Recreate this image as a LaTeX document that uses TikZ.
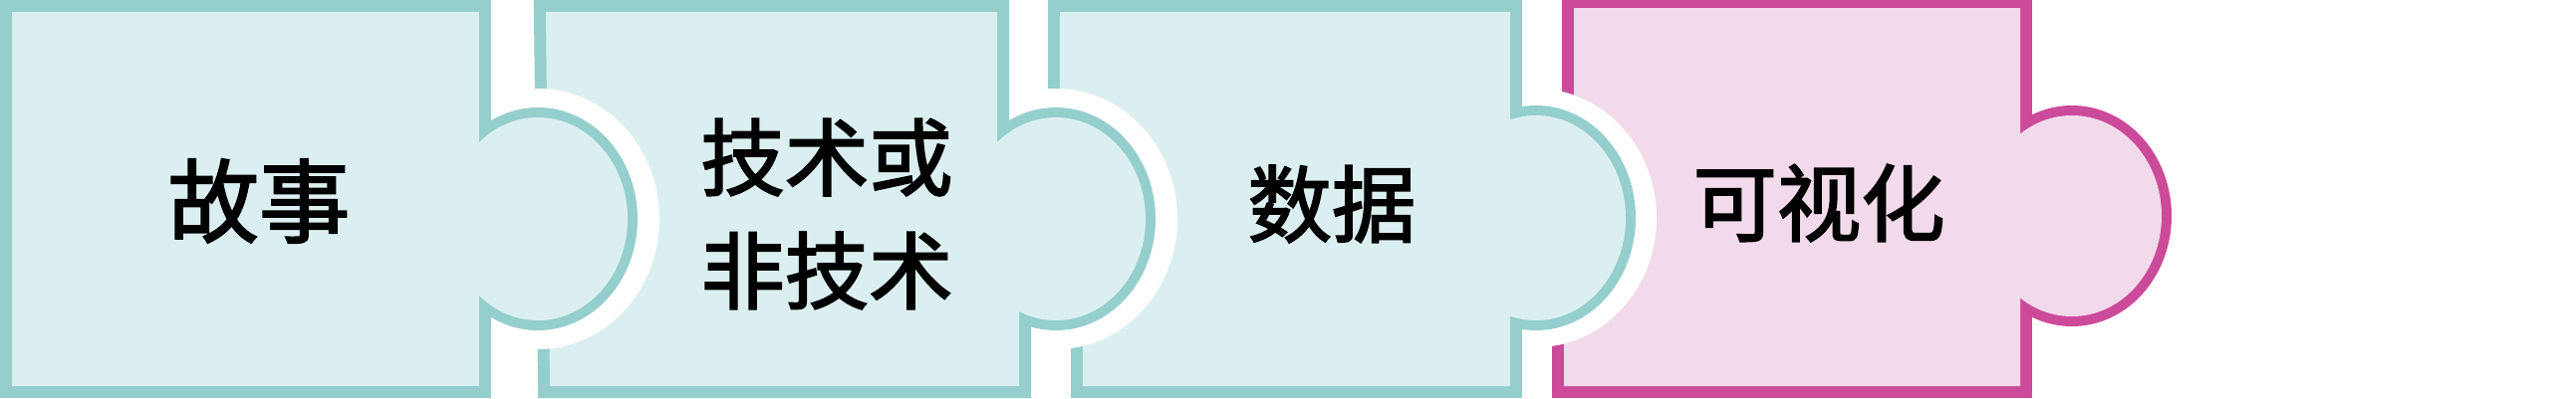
\documentclass[tikz,border=0pt]{standalone}
\usepackage{fontspec}
\newfontfamily\cjk[FakeBold=2.2]{Noto Sans CJK SC}
\definecolor{tealline}{HTML}{94CFCD}
\definecolor{tealface}{HTML}{DCEFF0}
\definecolor{pinkline}{HTML}{CC4A9A}
\definecolor{pinkface}{HTML}{F2DAEA}

\begin{document}
\begin{tikzpicture}[x=0.1mm, y=0.1mm,
	rim/.style={line width=2.4mm},
	knobrim/.style={line width=2mm},
	halo/.style={fill=white},
	word/.style={font=\cjk\fontsize{24}{32.4}\selectfont, align=center, text=black}]
	\useasboundingbox (0,0) rectangle (2586,400);
	\coordinate(K1) at (540,180);
	\coordinate(K2) at (1060,180);
	\coordinate(K3) at (1542,181);
	\coordinate(K4) at (2080,183);
	
	\draw[rim, pinkline] (1580,392)--(2028,392)--(2028,12)--(1570,12)--(1570,180)--(1580,180)--cycle;
	\draw[knobrim, pinkline] (K4) ellipse [x radius=90, y radius=101];
	\fill[pinkface] (1580,392)--(2028,392)--(2028,12)--(1570,12)--(1570,180)--(1580,180)--cycle;
	\fill[pinkface] (K4) ellipse [x radius=90, y radius=101];
	
	\fill[halo] (K3) ellipse [x radius=121, y radius=130];
	\draw[rim, tealline] (1064,388)--(1516,388)--(1516,12)--(1087,12)--(1087,180)--(1064,180)--cycle;
	\draw[knobrim, tealline] (K3) ellipse [x radius=90, y radius=103];
	\fill[tealface] (1064,388)--(1516,388)--(1516,12)--(1087,12)--(1087,180)--(1064,180)--cycle;
	\fill[tealface] (K3) ellipse [x radius=90, y radius=103];
	
	\fill[halo] (K2) ellipse [x radius=122, y radius=131];
	\draw[rim, tealline] (548,388)--(1001,388)--(1001,200)--(1023,200)--(1023,12)--(552,12)--cycle;
	\draw[knobrim, tealline] (K2) ellipse [x radius=90, y radius=102];
	\fill[tealface] (548,388)--(1001,388)--(1001,200)--(1023,200)--(1023,12)--(552,12)--cycle;
	\fill[tealface] (K2) ellipse [x radius=90, y radius=102];
	
	\fill[halo] (K1) ellipse [x radius=122, y radius=131];
	\draw[rim, tealline] (12,12) rectangle (481,388);
	\draw[knobrim, tealline] (K1) ellipse [x radius=90, y radius=102];
	\fill[tealface] (12,12) rectangle (481,388);
	\fill[tealface] (K1) ellipse [x radius=90, y radius=102];
	
	\node[word, font=\cjk\fontsize{26}{30}\selectfont] (story) at (260,198) {故事};
	\node[word] (skill) at (830,185) {技术或\\非技术};
	\node[word] (data) at (1337,195) {数据};
	\node[word] (visual) at (1826,196) {可视化};
\end{tikzpicture}
\end{document}
